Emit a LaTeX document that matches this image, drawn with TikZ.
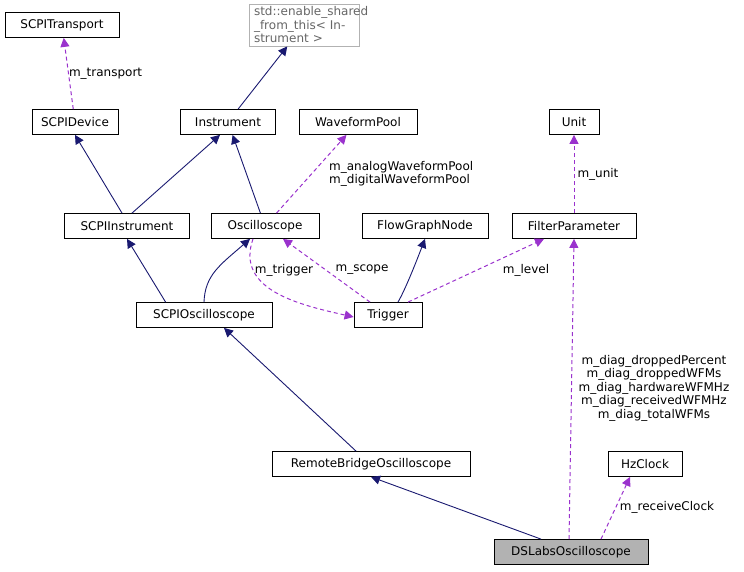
\documentclass[tikz,border=0pt]{standalone}
\usepackage{fontspec}
\setmainfont{DejaVu Sans}
\usetikzlibrary{arrows.meta}
\definecolor{inhcol}{HTML}{191970}
\definecolor{usecol}{HTML}{9A32CD}
\tikzset{
	cls/.style={draw,fill=white,font=\fontsize{12}{13.5}\selectfont,inner sep=0pt,minimum height=25pt,line width=0.8pt},
	base/.style={cls,draw=black!30,text=black!60,align=left,minimum height=42pt,inner xsep=5pt,text width=100pt},
	inh/.style={draw=inhcol,line width=0.9pt,-{Triangle[length=9pt,width=9pt,fill=inhcol]}},
	use/.style={draw=usecol,line width=1pt,dashed,dash pattern=on 4pt off 3pt,-{Triangle[length=9pt,width=9pt,fill=usecol]}},
	lbl/.style={font=\fontsize{12}{13.5}\selectfont,align=center,inner sep=1pt}
}
\begin{document}
\begin{tikzpicture}[x=1pt,y=-1pt]
	\useasboundingbox (0,0) rectangle (744,572);
	%classes
	\node[cls,minimum width=114pt] (transport) at (62,25) {SCPITransport};
	\node[base] (shared) at (304,25) {std::enable\_shared\\\_from\_this< Instrument >};
	\node[cls,minimum width=86pt] (device) at (75,122) {SCPIDevice};
	\node[cls,minimum width=95pt] (instr) at (228,122) {Instrument};
	\node[cls,minimum width=118pt] (pool) at (358,122) {WaveformPool};
	\node[cls,minimum width=50pt] (unit) at (574,122) {Unit};
	\node[cls,minimum width=125pt] (scpiinstr) at (127,226) {SCPIInstrument};
	\node[cls,minimum width=108pt] (scope) at (265,226) {Oscilloscope};
	\node[cls,minimum width=126pt] (flow) at (425,226) {FlowGraphNode};
	\node[cls,minimum width=124pt] (param) at (574,226) {FilterParameter};
	\node[cls,minimum width=136pt] (scpiscope) at (204,315) {SCPIOscilloscope};
	\node[cls,minimum width=68pt] (trigger) at (388,315) {Trigger};
	\node[cls,minimum width=198pt] (bridge) at (371,464) {RemoteBridgeOscilloscope};
	\node[cls,minimum width=74pt] (clock) at (645,464) {HzClock};
	\node[cls,minimum width=154pt,fill=black!30] (dslabs) at (571,552) {DSLabsOscilloscope};

	%inheritance
	\draw[inh] (instr) -- (shared);
	\draw[inh] (scpiinstr.north) ++(-5,0) -- (device.south);
	\draw[inh] (scpiinstr.north) ++(5,0) -- ([xshift=-8pt]instr.south);
	\draw[inh] (scope) -- (instr);
	\draw[inh] (scpiscope.north west) ++(30,0) -- (scpiinstr.south);
	\draw[inh] (scpiscope.north) .. controls (205,275) and (220,265) .. ([xshift=-15pt]scope.south);
	\draw[inh] (trigger.north) ++(10,0) .. controls (405,290) and (415,265) .. (flow.south);
	\draw[inh] ([xshift=-15pt]bridge.north) -- ([xshift=20pt]scpiscope.south);
	\draw[inh] (dslabs.north) ++(-30,0) -- (bridge.south);

	%usage
	\draw[use] (device) -- (transport) node[lbl,midway,right=-1pt] {m\_transport};
	\draw[use] (scope) -- (pool);
	\node[lbl,align=left,anchor=west] (poollbl) at (328,174) {m\_analogWaveformPool\\m\_digitalWaveformPool};
	\draw[use] (param) -- (unit) node[lbl,midway,right=2pt] {m\_unit};
	\draw[use] ([xshift=-12pt]scope.south) .. controls (235,290) and (300,305) .. ([yshift=-2pt]trigger.west);
	\node[lbl] (trglbl) at (284,270) {m\_trigger};
	\draw[use] ([xshift=-18pt]trigger.north) -- ([xshift=18pt]scope.south);
	\node[lbl] (scopelbl) at (362,270) {m\_scope};
	\draw[use] ([xshift=20pt]trigger.north) -- ([xshift=-30pt]param.south);
	\node[lbl] (levellbl) at (526,270) {m\_level};
	\draw[use] ([xshift=-2pt]dslabs.north) -- (param.south);
	\node[lbl] (diaglbl) at (654,388) {m\_diag\_droppedPercent\\m\_diag\_droppedWFMs\\m\_diag\_hardwareWFMHz\\m\_diag\_receivedWFMHz\\m\_diag\_totalWFMs};
	\draw[use] ([xshift=30pt]dslabs.north) -- ([xshift=-15pt]clock.south);
	\node[lbl] (clocklbl) at (667,507) {m\_receiveClock};
\end{tikzpicture}
\end{document}
